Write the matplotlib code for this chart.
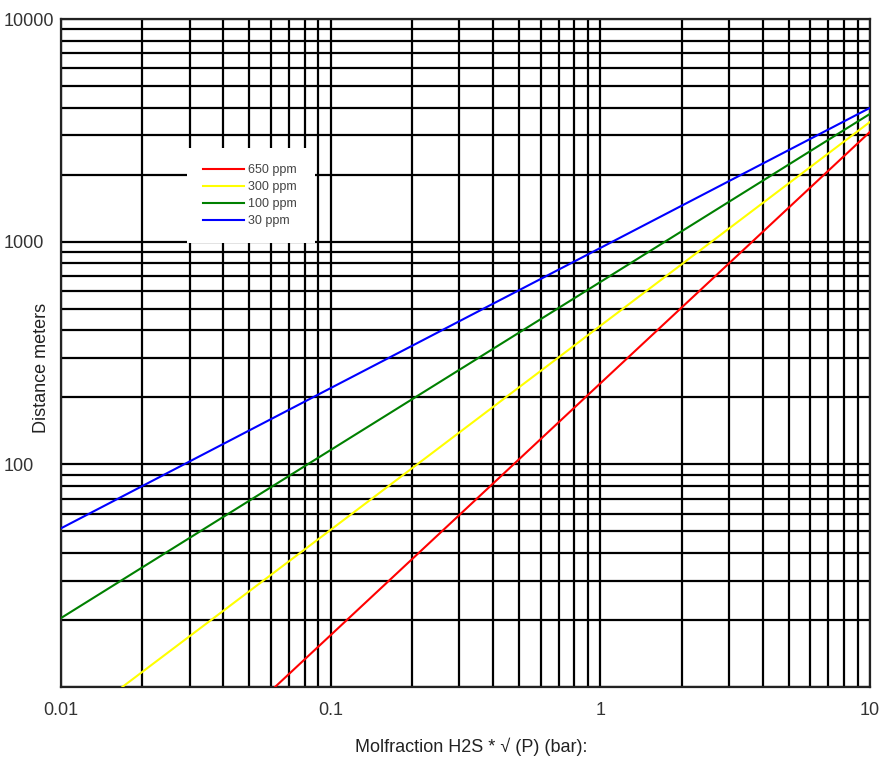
import matplotlib
matplotlib.use("Agg")
import matplotlib.pyplot as plt
from matplotlib.patches import Rectangle

plt.rcParams['font.family'] = ['Liberation Sans', 'DejaVu Sans']

# values at each decade of x
x_vals = [0.01, 0.1, 1, 10]
ppm_650 = [1.27, 17.1, 231, 3113]
ppm_300 = [6.2, 50.8, 419, 3450]
ppm_100 = [20.4, 116, 659, 3750]
ppm_30 = [51.6, 220, 937, 3990]

series = [("650 ppm", ppm_650, "#ff0000"),
          ("300 ppm", ppm_300, "#ffff00"),
          ("100 ppm", ppm_100, "#008000"),
          ("30 ppm", ppm_30, "#0000ff")]

x_ticks = [0.01, 0.1, 1, 10]
x_ticklabels = ["0.01", "0.1", "1", "10"]
y_ticks = [10, 100, 1000, 10000]
y_ticklabels = ["", "100", "1000", "10000"]

fig = plt.figure(figsize=(8.94, 7.6), dpi=100)
ax = fig.add_axes([61/894, 73/760, 809/894, 668/760])
ax.set_xscale("log")
ax.set_yscale("log")
ax.set_xlim(0.01, 10)
ax.set_ylim(10, 10000)
ax.set_axisbelow(True)

for name, vals, col in series:
    ax.plot(x_vals, vals, color=col, lw=1.5, label=name, zorder=3)

ax.set_xticks(x_ticks)
ax.set_xticklabels(x_ticklabels)
ax.set_yticks(y_ticks)
ax.set_yticklabels(y_ticklabels)
ax.grid(True, which="both", color="black", lw=1.6)
ax.tick_params(which="both", length=0)
ax.tick_params(axis="x", pad=11, labelsize=13, labelcolor="#333333")
ax.tick_params(axis="y", pad=41, labelsize=13, labelcolor="#333333")
for lbl in ax.get_yticklabels():
    lbl.set_horizontalalignment("left")

for side in ["left", "bottom", "top", "right"]:
    ax.spines[side].set_color("#222222")
    ax.spines[side].set_linewidth(1.6)

fig.text(471/894, 1 - 747/760, "Molfraction H2S * √ (P) (bar):",
         ha="center", va="center", fontsize=13, color="#222222")
fig.text(41/894, 1 - 368/760, "Distance meters", rotation=90,
         ha="center", va="center", fontsize=13, color="#222222")

# white box behind the legend, covering the grid
box = Rectangle((187/894, 1 - 243/760), 128/894, 95/760,
                transform=fig.transFigure, facecolor="white",
                edgecolor="none", zorder=2)
ax.add_patch(box)
box.set_clip_on(False)

leg = ax.legend(loc="upper left", bbox_to_anchor=(203/894, 1 - 164/760),
                bbox_transform=fig.transFigure, frameon=False,
                fontsize=9, handlelength=3.3, handletextpad=0.3,
                labelspacing=0.41, borderpad=0, borderaxespad=0)
for t in leg.get_texts():
    t.set_color("#444444")
leg.set_zorder(5)

fig.savefig("out.png", dpi=100)
